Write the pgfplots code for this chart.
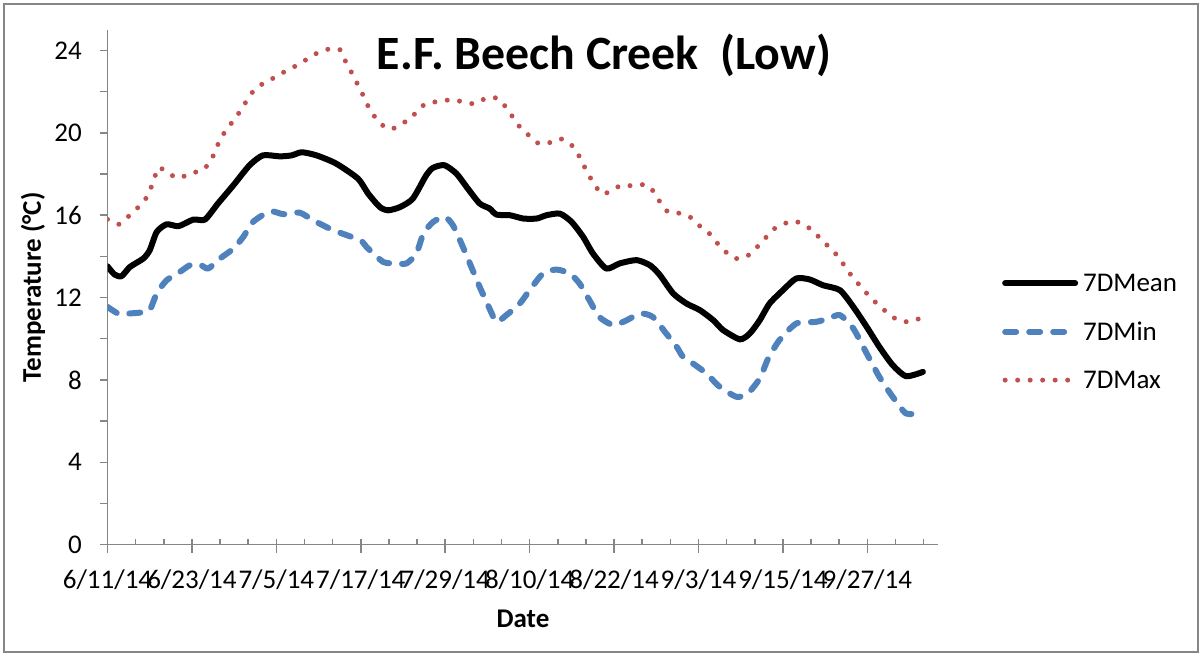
\documentclass[border=0pt]{standalone}
\usepackage{fontspec}
\setmainfont{Carlito}
\usepackage{pgfplots}
\pgfplotsset{compat=1.18}
\definecolor{mincol}{HTML}{4F81BD}
\definecolor{maxcol}{HTML}{C0504D}
\definecolor{axgray}{HTML}{868686}
\newcommand\tk{\fontsize{27bp}{32bp}\selectfont}

\begin{document}
\begin{tikzpicture}[x=1bp,y=1bp]
\path[use as bounding box] (0,0) rectangle (1202,656);
\draw[axgray,line width=1.5bp] (4,4) rectangle (1198,652);
\begin{axis}[
  at={(107.5bp,111.4bp)}, anchor=origin,
  scale only axis, width=830.2bp, height=514.6bp,
  xmin=0, xmax=118, ymin=0, ymax=25,
  axis lines*=left,
  axis line style={axgray, line width=1.5bp},
  tick style={axgray, line width=1.5bp},
  tick align=inside,
  major tick length=8bp, minor tick length=6bp,
  ytick={0,2,...,24},
  yticklabels={0,,4,,8,,12,,16,,20,,24},
  ytick style={xshift=-8bp},
  xtick={0,12,...,108},
  xticklabels={6/11/14,6/23/14,7/5/14,7/17/14,7/29/14,8/10/14,8/22/14,9/3/14,9/15/14,9/27/14},
  minor xtick={0,4,...,116},
  major x tick style={yshift=-8bp},
  /pgf/number format/assume math mode=true,
  yticklabel style={font=\tk, anchor=east, inner sep=0pt, xshift=-25.5bp},
  xticklabel style={font=\tk, anchor=north, inner sep=0pt, yshift=-25bp},
  legend style={at={(axis description cs:1.0774,0.4137)}, anchor=west,
    draw=none, fill=none, inner sep=0pt, font=\tk, row sep=25bp,
    column sep=3bp, cells={anchor=west}},
  legend image code/.code={\draw[#1] (0bp,0bp) -- (70bp,0bp);},
  every axis plot/.append style={smooth, tension=0.4, line join=round},
]
\addplot[black, line width=6bp, line cap=round] coordinates {
(0,13.52) (1,13.12) (2,13.04) (3.2,13.49) (5.1,13.9) (6,14.3) (7,15.19)
(8.4,15.56) (10.1,15.47) (12.2,15.79) (13.85,15.79) (15.7,16.57) (17.9,17.46)
(20.2,18.43) (22.1,18.91) (24.5,18.86) (26.2,18.91) (27.6,19.06) (29.7,18.91)
(32.5,18.51) (35.6,17.78) (37.05,17.05) (38.7,16.4) (39.9,16.24) (41.6,16.4)
(43.4,16.81) (45.3,17.94) (46.3,18.31) (47.9,18.43) (49.6,18.02) (51.2,17.3)
(52.9,16.57) (54.3,16.33) (55.3,16.03) (57.2,16.0) (59.1,15.84) (61,15.84)
(62.4,16.0) (64.3,16.08) (65.95,15.68) (67.6,14.95) (69,14.14) (70.9,13.41)
(72.8,13.66) (75.2,13.82) (77.1,13.57) (78.5,13.1) (80.4,12.2) (82.3,11.71)
(84.2,11.39) (86.1,10.9) (87.5,10.42) (89.9,9.97) (91.3,10.26) (92.7,10.9)
(94.1,11.71) (96,12.36) (97.9,12.93) (99.8,12.88) (101.7,12.6) (104.1,12.36)
(106,11.55) (107.9,10.58) (109.7,9.61) (111.6,8.72) (113.5,8.18) (115.9,8.39)
};
\addlegendentry{7DMean}
\addplot[mincol, line width=6bp, line cap=round, dash pattern=on 11bp off 13bp] coordinates {
(0,11.55) (1.7,11.19) (3.2,11.23) (4.9,11.28) (6,11.39) (7,12.2) (8.4,12.84)
(10.3,13.25) (11.7,13.57) (13.1,13.61) (14.3,13.41) (16,13.9) (17.9,14.38)
(19.3,14.95) (20.7,15.68) (23.1,16.19) (25,16.05) (27.3,16.13) (29.2,15.76)
(32.1,15.27) (35.9,14.79) (36.8,14.46) (39.2,13.73) (41.1,13.66) (42.5,13.66)
(43.9,14.14) (44.9,15.11) (46.3,15.68) (47.95,15.92) (49.1,15.51) (50.3,14.63)
(51.5,13.66) (52.9,12.52) (54.4,11.39) (55.3,10.82) (56.7,11.15) (58.6,11.71)
(60,12.36) (61.9,13.17) (63.8,13.36) (65.7,13.17) (67.1,12.68) (68.5,11.87)
(69.9,11.06) (71.9,10.66) (73.8,10.9) (75.7,11.23) (77.5,11.06) (79.4,10.26)
(80.9,9.61) (81.8,9.12) (83.2,8.8) (85.1,8.32) (87,7.67) (89.4,7.18) (91,7.34)
(92.7,8.07) (93.9,9.04) (95.5,9.93) (97.9,10.74) (100.7,10.82) (102.6,10.99)
(104.1,11.15) (106,10.5) (107.9,9.29) (109.7,8.15) (111.6,7.18) (113.5,6.37)
(115.5,6.4)
};
\addlegendentry{7DMin}
\addplot[maxcol, line width=5bp, line cap=round, dash pattern=on 0bp off 12.5bp] coordinates {
(0,15.8) (1.6,15.56) (2.9,15.92) (4.1,16.3) (5.3,16.73) (6.1,17.26) (6.7,17.84)
(7.3,18.33) (8.7,18.02) (10.2,17.8) (11.7,18.04) (13.4,18.17) (14.6,18.59)
(15.3,19.12) (16,19.67) (16.9,20.16) (18,20.64) (19,21.13) (19.9,21.63)
(20.9,22.1) (22.3,22.44) (23.8,22.7) (25.3,23.0) (26.9,23.28) (28.3,23.57)
(29.8,23.88) (31.4,24.07) (33,24.06) (33.8,23.5) (34.6,22.99) (35.4,22.46)
(36.2,21.92) (36.9,21.39) (37.8,20.87) (38.9,20.42) (40.3,20.17) (41.6,20.42)
(43.1,20.69) (44.2,21.16) (45.6,21.47) (47.3,21.52) (48.9,21.62) (50.6,21.5)
(52.2,21.42) (53.9,21.7) (55.4,21.68) (56.6,21.26) (57.6,20.77) (58.6,20.29)
(59.9,19.88) (61.3,19.48) (62.7,19.51) (64.3,19.72) (65.7,19.5) (66.8,19.02)
(67.6,18.48) (68.4,17.96) (69.3,17.44) (70.4,17.02) (71.8,17.25) (73.2,17.47)
(74.8,17.42) (76.5,17.49) (77.7,17.12) (78.6,16.6) (79.7,16.15) (81.2,16.1)
(82.9,15.89) (84.1,15.5) (85.5,15.13) (86.6,14.67) (87.8,14.24) (89.2,13.9)
(90.8,13.99) (92.1,14.38) (93.3,14.8) (94.4,15.26) (95.9,15.55) (97.5,15.72)
(99.1,15.53) (100.5,15.16) (101.7,14.72) (103,14.33) (104.1,13.86) (105.1,13.38)
(106.1,12.89) (107.3,12.47) (108.4,12.0) (109.7,11.62) (111,11.21) (112.4,10.9)
(114.1,10.82) (115.7,11.03)
};
\addlegendentry{7DMax}
\end{axis}
\node[anchor=base, inner sep=0pt, font=\fontsize{47.8bp}{56bp}\selectfont\bfseries] at (604,586) {E.F. Beech Creek\ \ (Low)};
\node[anchor=base, inner sep=0pt, font=\tk\bfseries] at (523,28) {Date};
\node[rotate=90, inner sep=0pt, font=\tk\bfseries] at (33,368.5) {Temperature (°C)};
\end{tikzpicture}
\end{document}
